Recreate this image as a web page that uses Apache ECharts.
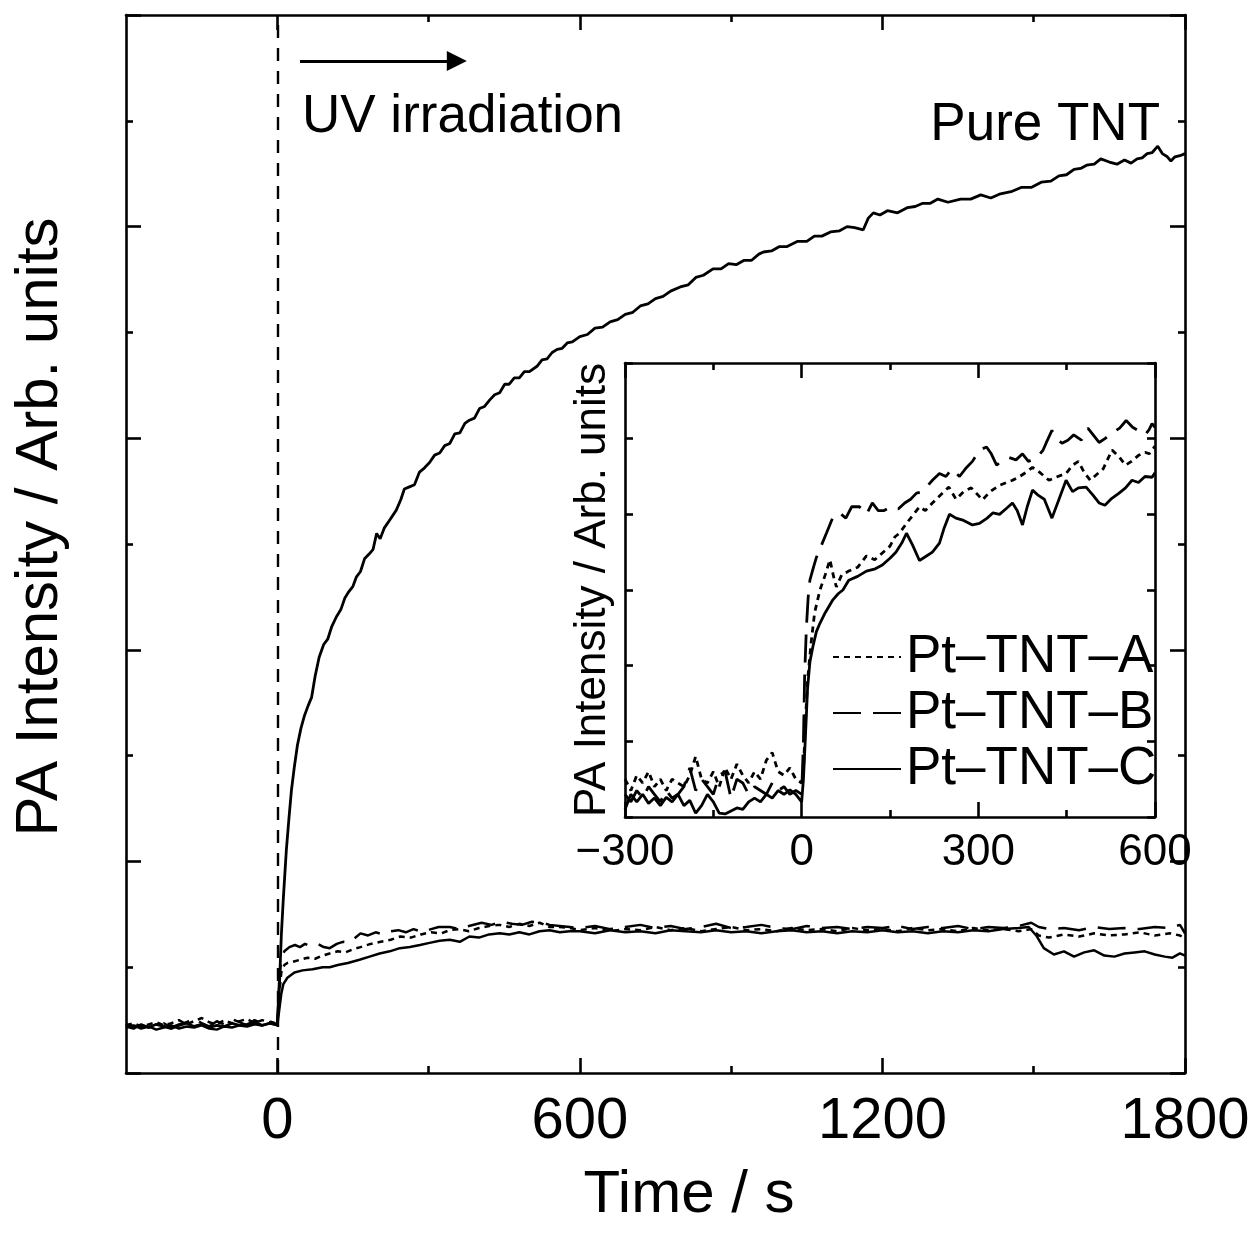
<!DOCTYPE html>
<html>
<head>
<meta charset="utf-8">
<script src="https://cdn.jsdelivr.net/npm/echarts@6/dist/echarts.min.js"></script>
<style>
  html, body { margin: 0; padding: 0; background: #fff; }
  #chart { width: 1257px; height: 1237px; }
</style>
</head>
<body>
<div id="chart"></div>
<script>
// ---------------- DATA (time / s, PA intensity / arb. units) ----------------
const mainXTicks = [0, 600, 1200, 1800];
const insetXTicks = [-300, 0, 300, 600];

const pureTNT = [
  [-300,0.46],[-285,0.44],[-270,0.45],[-255,0.43],[-240,0.46],[-225,0.44],[-210,0.42],[-195,0.45],
  [-180,0.47],[-165,0.44],[-150,0.46],[-135,0.43],[-120,0.45],[-105,0.44],[-90,0.47],[-75,0.45],
  [-60,0.46],[-45,0.48],[-30,0.45],[-15,0.47],[0,0.46],
  [4,0.80],[8,1.30],[12,1.65],[18,2.11],[23,2.40],[28,2.67],[34,2.90],[40,3.10],[47,3.26],[54,3.38],
  [61,3.47],[68,3.55],[75,3.75],[83,3.93],[92,4.05],[100,4.10],[108,4.22],[117,4.31],[126,4.38],
  [134,4.49],[142,4.55],[150,4.60],[157,4.69],[165,4.74],[173,4.86],[183,4.91],[190,4.95],[197,5.10],
  [204,5.05],[212,5.15],[222,5.22],[236,5.32],[245,5.42],[252,5.52],[262,5.54],[272,5.56],[282,5.68],
  [292,5.72],[302,5.77],[312,5.84],[322,5.86],[332,5.93],[342,5.95],[352,6.04],[362,6.05],[372,6.14],
  [381,6.17],[391,6.19],[401,6.28],[411,6.30],[421,6.36],[431,6.41],[441,6.43],[451,6.51],[460,6.51],
  [470,6.57],[480,6.57],[490,6.63],[500,6.63],[515,6.68],[525,6.74],[535,6.75],[545,6.81],[555,6.84],
  [565,6.85],[575,6.90],[585,6.91],[600,6.96],[615,6.98],[630,7.04],[645,7.05],[660,7.10],[675,7.12],
  [690,7.17],[705,7.19],[720,7.25],[735,7.27],[750,7.32],[765,7.34],[780,7.39],[799,7.43],[815,7.45],
  [830,7.52],[845,7.54],[864,7.60],[880,7.60],[895,7.65],[910,7.64],[925,7.68],[940,7.68],[955,7.74],
  [964,7.76],[980,7.77],[995,7.81],[1010,7.81],[1031,7.86],[1050,7.86],[1065,7.91],[1080,7.91],
  [1097,7.95],[1115,7.96],[1130,8.00],[1145,7.99],[1162,7.97],[1172,8.08],[1182,8.13],[1195,8.11],
  [1210,8.15],[1230,8.13],[1250,8.18],[1265,8.19],[1280,8.22],[1295,8.22],[1310,8.26],[1330,8.23],
  [1355,8.26],[1375,8.26],[1395,8.30],[1415,8.27],[1434,8.31],[1455,8.33],[1475,8.37],[1495,8.37],
  [1515,8.42],[1534,8.43],[1550,8.48],[1565,8.49],[1580,8.54],[1593,8.55],[1605,8.58],[1620,8.59],
  [1633,8.64],[1650,8.61],[1665,8.59],[1680,8.63],[1693,8.60],[1705,8.64],[1715,8.65],[1725,8.69],
  [1735,8.70],[1746,8.76],[1755,8.69],[1765,8.66],[1772,8.62],[1780,8.66],[1790,8.67],[1800,8.69]
];

const mainA = [
  [-300,0.45],[-285,0.47],[-270,0.44],[-255,0.46],[-240,0.48],[-225,0.45],[-210,0.47],[-195,0.50],
  [-180,0.46],[-165,0.49],[-150,0.52],[-135,0.48],[-120,0.46],[-105,0.50],[-90,0.47],[-75,0.49],
  [-60,0.51],[-45,0.47],[-30,0.50],[-15,0.48],[0,0.47],
  [4,0.75],[8,0.95],[14,1.02],[20,1.04],[30,1.05],[45,1.07],[60,1.09],[75,1.08],[90,1.11],[104,1.13],
  [120,1.15],[135,1.14],[150,1.17],[165,1.19],[185,1.22],[205,1.24],[225,1.26],[244,1.29],[265,1.28],
  [285,1.31],[305,1.33],[325,1.32],[342,1.35],[360,1.36],[380,1.34],[400,1.37],[420,1.39],[441,1.40],
  [460,1.38],[480,1.41],[500,1.39],[520,1.42],[540,1.38],[560,1.38],[580,1.37],
  [600,1.35],[630,1.37],[660,1.34],[690,1.36],[720,1.35],[750,1.38],[780,1.35],[810,1.37],[840,1.34],
  [870,1.36],[900,1.38],[930,1.35],[960,1.36],[990,1.34],[1020,1.37],[1050,1.35],[1080,1.36],
  [1110,1.34],[1140,1.37],[1170,1.35],[1200,1.36],[1230,1.34],[1260,1.37],[1290,1.35],[1320,1.36],
  [1350,1.34],[1380,1.37],[1410,1.35],[1440,1.36],[1470,1.34],[1495,1.36],[1510,1.30],[1530,1.28],
  [1560,1.31],[1590,1.29],[1620,1.32],[1650,1.30],[1680,1.31],[1710,1.33],[1740,1.30],[1770,1.32],
  [1790,1.30],[1800,1.27]
];

const mainB = [
  [-300,0.44],[-285,0.42],[-270,0.46],[-255,0.43],[-240,0.45],[-225,0.47],[-210,0.43],[-195,0.46],
  [-180,0.48],[-165,0.52],[-150,0.47],[-135,0.44],[-120,0.49],[-105,0.46],[-90,0.51],[-75,0.48],
  [-60,0.45],[-45,0.50],[-30,0.47],[-15,0.49],[0,0.46],
  [4,0.90],[8,1.08],[14,1.15],[24,1.19],[35,1.21],[45,1.19],[55,1.22],[65,1.20],[80,1.22],[92,1.19],
  [104,1.18],[118,1.22],[130,1.24],[142,1.23],[150,1.26],[165,1.32],[180,1.30],[195,1.33],[210,1.31],
  [225,1.34],[240,1.35],[255,1.33],[270,1.36],[290,1.33],[305,1.36],[320,1.38],[342,1.38],[360,1.36],
  [380,1.39],[405,1.42],[425,1.40],[445,1.43],[465,1.41],[485,1.40],[505,1.43],[525,1.42],[540,1.40],
  [560,1.39],[580,1.38],
  [600,1.37],[630,1.39],[660,1.36],[690,1.38],[720,1.40],[750,1.37],[780,1.39],[810,1.36],[840,1.38],
  [870,1.41],[900,1.37],[930,1.38],[960,1.40],[990,1.37],[1020,1.36],[1050,1.39],[1080,1.37],
  [1110,1.38],[1140,1.36],[1170,1.38],[1200,1.37],[1230,1.39],[1260,1.36],[1290,1.38],[1320,1.37],
  [1350,1.39],[1380,1.36],[1410,1.38],[1440,1.37],[1470,1.39],[1495,1.42],[1510,1.38],[1530,1.36],
  [1560,1.37],[1590,1.35],[1620,1.38],[1650,1.36],[1680,1.37],[1710,1.36],[1740,1.38],[1770,1.37],
  [1790,1.40],[1800,1.32]
];

const mainC = [
  [-300,0.43],[-285,0.45],[-270,0.42],[-255,0.44],[-240,0.41],[-225,0.43],[-210,0.45],[-195,0.42],
  [-180,0.44],[-165,0.43],[-150,0.45],[-135,0.42],[-120,0.41],[-105,0.44],[-90,0.43],[-75,0.45],
  [-60,0.44],[-45,0.46],[-30,0.45],[-15,0.47],[0,0.45],
  [4,0.60],[8,0.75],[12,0.84],[20,0.90],[34,0.95],[50,0.97],[70,0.98],[90,1.00],[104,1.00],[120,1.02],
  [140,1.04],[163,1.07],[183,1.10],[203,1.13],[223,1.15],[243,1.18],[263,1.19],[283,1.21],[302,1.23],
  [322,1.25],[342,1.26],[362,1.24],[381,1.29],[400,1.28],[420,1.31],[441,1.32],[460,1.31],[480,1.33],
  [500,1.31],[520,1.34],[540,1.35],[560,1.33],[580,1.34],
  [600,1.34],[630,1.32],[660,1.35],[690,1.33],[720,1.34],[750,1.32],[780,1.35],[810,1.34],[840,1.33],
  [870,1.35],[900,1.33],[930,1.34],[960,1.32],[990,1.34],[1020,1.35],[1050,1.33],[1080,1.34],
  [1110,1.32],[1140,1.34],[1170,1.33],[1200,1.35],[1230,1.33],[1260,1.34],[1290,1.32],[1320,1.34],
  [1350,1.33],[1380,1.35],[1410,1.34],[1440,1.36],[1470,1.37],[1490,1.38],[1505,1.30],[1520,1.18],
  [1540,1.12],[1560,1.15],[1580,1.10],[1600,1.14],[1620,1.16],[1640,1.11],[1660,1.10],[1680,1.13],
  [1700,1.14],[1720,1.15],[1740,1.12],[1760,1.10],[1775,1.09],[1790,1.13],[1800,1.11]
];

const insetA = [
  [-300,0.50],[-290,0.35],[-280,0.55],[-270,0.45],[-260,0.60],[-250,0.40],[-240,0.50],[-230,0.35],
  [-220,0.50],[-210,0.45],[-200,0.40],[-190,0.55],[-180,0.80],[-170,0.50],[-160,0.45],[-150,0.60],
  [-140,0.40],[-130,0.65],[-120,0.50],[-110,0.70],[-100,0.55],[-90,0.45],[-80,0.60],[-70,0.50],
  [-60,0.75],[-50,0.85],[-40,0.60],[-30,0.55],[-20,0.65],[-10,0.50],[0,0.45],
  [3,0.60],[6,1.20],[10,1.80],[16,2.30],[22,2.70],[31,3.00],[40,3.20],[48,3.40],[55,3.15],[59,3.04],
  [68,3.20],[80,3.25],[95,3.30],[110,3.45],[124,3.40],[137,3.49],[150,3.58],[158,3.70],[166,3.75],
  [178,3.88],[190,4.00],[200,4.10],[210,4.05],[222,4.15],[235,4.25],[250,4.36],[262,4.20],[275,4.30],
  [288,4.35],[300,4.25],[307,4.19],[320,4.30],[335,4.38],[348,4.42],[358,4.45],[370,4.50],[380,4.55],
  [392,4.62],[405,4.55],[420,4.45],[435,4.50],[449,4.54],[460,4.65],[470,4.70],[480,4.55],[490,4.45],
  [500,4.52],[512,4.60],[527,4.85],[540,4.75],[550,4.65],[560,4.70],[572,4.78],[583,4.82],[590,4.80],
  [600,4.90]
];

const insetB = [
  [-300,0.30],[-290,0.20],[-280,0.35],[-270,0.25],[-260,0.40],[-250,0.30],[-240,0.20],[-230,0.35],
  [-220,0.25],[-210,0.30],[-200,0.40],[-190,0.65],[-180,0.35],[-170,0.50],[-160,0.40],[-150,0.30],
  [-140,0.55],[-130,0.60],[-120,0.25],[-110,0.50],[-100,0.45],[-90,0.30],[-80,0.40],[-70,0.35],
  [-60,0.30],[-50,0.45],[-40,0.35],[-30,0.40],[-20,0.30],[-10,0.35],[0,0.30],
  [3,1.00],[5,1.85],[8,2.50],[11,2.90],[14,3.13],[20,3.30],[25,3.43],[34,3.60],[42,3.75],[53,3.96],
  [64,4.02],[75,3.95],[85,4.10],[98,4.10],[110,4.00],[120,4.15],[130,4.05],[140,4.05],[152,4.10],
  [164,4.07],[175,4.15],[185,4.20],[195,4.28],[205,4.30],[212,4.36],[222,4.45],[234,4.54],[245,4.50],
  [255,4.60],[268,4.50],[280,4.62],[290,4.70],[302,4.85],[314,4.89],[322,4.80],[331,4.65],[342,4.72],
  [352,4.75],[364,4.72],[375,4.80],[385,4.70],[400,4.75],[410,4.85],[415,4.94],[425,5.11],[433,5.00],
  [442,4.94],[452,4.98],[462,5.05],[475,4.98],[486,5.14],[495,5.05],[505,4.95],[515,5.00],[528,5.08],
  [540,5.14],[551,5.24],[562,5.15],[573,5.10],[583,5.05],[590,5.12],[595,5.20],[600,5.15]
];

const insetC = [
  [-300,0.10],[-290,0.30],[-280,0.20],[-270,0.30],[-260,0.18],[-250,0.25],[-240,0.15],[-230,0.26],
  [-220,0.20],[-210,0.30],[-200,0.15],[-190,0.22],[-180,0.05],[-170,0.15],[-160,0.30],[-150,0.20],
  [-140,0.05],[-130,0.04],[-120,0.08],[-110,0.12],[-100,0.10],[-90,0.20],[-80,0.25],[-70,0.20],
  [-60,0.30],[-50,0.25],[-40,0.35],[-30,0.30],[-20,0.36],[-10,0.30],[0,0.20],
  [3,0.50],[6,1.00],[10,1.70],[14,2.05],[19,2.25],[25,2.45],[31,2.56],[40,2.70],[53,2.87],[62,2.95],
  [70,3.00],[80,3.13],[95,3.18],[110,3.25],[125,3.28],[137,3.33],[150,3.42],[160,3.50],[170,3.62],
  [178,3.75],[188,3.60],[200,3.39],[212,3.45],[222,3.50],[234,3.62],[242,3.82],[251,4.00],[262,3.95],
  [275,3.92],[290,3.86],[302,3.88],[315,3.95],[325,4.02],[336,4.00],[348,4.08],[358,4.15],[366,4.05],
  [375,3.86],[383,4.10],[392,4.32],[402,4.25],[412,4.20],[425,3.95],[437,4.20],[449,4.45],[460,4.30],
  [470,4.35],[483,4.36],[495,4.25],[505,4.15],[515,4.12],[525,4.20],[539,4.28],[550,4.35],[561,4.45],
  [572,4.42],[583,4.50],[595,4.49],[600,4.55]
];

const seriesNames = ['Pt\u2013TNT\u2013A', 'Pt\u2013TNT\u2013B', 'Pt\u2013TNT\u2013C'];

// ---------------- STYLE ----------------
const FONT = '"Liberation Sans", Arial, Helvetica, sans-serif';
const K = '#000';
const AX_W = 2.6;
const dashA = [6, 5];
const dashB = [28, 12];

const chart = echarts.init(document.getElementById('chart'), null, { renderer: 'canvas' });

const lineAx = { show: true, onZero: false, lineStyle: { color: K, width: AX_W } };
const noLineAx = { show: false, onZero: false };
const tick = (len) => ({ show: true, inside: true, length: len, lineStyle: { color: K, width: AX_W } });
const minor = { show: true, splitNumber: 2, length: 7, lineStyle: { color: K, width: AX_W } };
const minus = v => (v < 0 ? '\u2212' + Math.abs(v) : String(v));

const option = {
  animation: false,
  backgroundColor: '#fff',
  textStyle: { fontFamily: FONT, color: K },
  grid: [
    { left: 126, top: 15, width: 1059, height: 1058 },             // main data
    { left: 277.3, top: 15, width: 907.7, height: 1058 },          // main tick axis (0..1800)
    { left: 625, top: 363, width: 530, height: 454 }               // inset
  ],
  xAxis: [
    { gridIndex: 0, type: 'value', position: 'bottom', min: -300, max: 1800,
      axisLine: lineAx, axisTick: { show: false }, axisLabel: { show: false }, splitLine: { show: false } },
    { gridIndex: 0, type: 'value', position: 'top', min: -300, max: 1800,
      axisLine: lineAx, axisTick: { show: false }, axisLabel: { show: false }, splitLine: { show: false } },
    { gridIndex: 1, type: 'value', position: 'bottom', min: 0, max: 1800, interval: 600,
      axisLine: noLineAx, axisTick: tick(15), minorTick: minor,
      axisLabel: { show: true, fontSize: 58, fontFamily: FONT, color: K, margin: 20,
        formatter: v => (mainXTicks.indexOf(v) >= 0 ? String(v) : '') },
      splitLine: { show: false } },
    { gridIndex: 1, type: 'value', position: 'top', min: 0, max: 1800, interval: 600,
      axisLine: noLineAx, axisTick: tick(15), minorTick: minor,
      axisLabel: { show: false }, splitLine: { show: false } },
    { gridIndex: 2, type: 'value', position: 'bottom', min: -300, max: 600, interval: 300,
      axisLine: lineAx, axisTick: tick(15), minorTick: minor,
      axisLabel: { show: true, fontSize: 44, fontFamily: FONT, color: K, margin: 14,
        formatter: v => (insetXTicks.indexOf(v) >= 0 ? minus(v) : '') },
      splitLine: { show: false } },
    { gridIndex: 2, type: 'value', position: 'top', min: -300, max: 600, interval: 300,
      axisLine: lineAx, axisTick: tick(15), minorTick: minor,
      axisLabel: { show: false }, splitLine: { show: false } }
  ],
  yAxis: [
    { gridIndex: 0, type: 'value', position: 'left', min: 0, max: 10, interval: 2,
      axisLine: lineAx, axisTick: tick(15), minorTick: minor,
      axisLabel: { show: false }, splitLine: { show: false } },
    { gridIndex: 0, type: 'value', position: 'right', min: 0, max: 10, interval: 2,
      axisLine: lineAx, axisTick: tick(15), minorTick: minor,
      axisLabel: { show: false }, splitLine: { show: false } },
    { gridIndex: 1, type: 'value', min: 0, max: 10, show: false, axisLine: noLineAx },
    { gridIndex: 2, type: 'value', position: 'left', min: 0, max: 6, interval: 1,
      axisLine: lineAx, axisTick: tick(8),
      axisLabel: { show: false }, splitLine: { show: false },
      name: 'PA Intensity / Arb. units', nameLocation: 'middle', nameGap: 10,
      nameTextStyle: { fontSize: 44, fontFamily: FONT, color: K } },
    { gridIndex: 2, type: 'value', position: 'right', min: 0, max: 6, interval: 1,
      axisLine: lineAx, axisTick: tick(8),
      axisLabel: { show: false }, splitLine: { show: false } }
  ],
  legend: {
    data: seriesNames,
    orient: 'vertical',
    left: 832, top: 629,
    padding: 0,
    itemWidth: 68, itemHeight: 14, itemGap: 0,
    selectedMode: false,
    itemStyle: { opacity: 0 },
    textStyle: { fontSize: 53, lineHeight: 56, fontFamily: FONT, color: K }
  },
  graphic: [
    { type: 'text', x: 40, y: 527, rotation: Math.PI / 2,
      style: { text: 'PA Intensity / Arb. units', fontSize: 60, fontFamily: FONT, fill: K, align: 'center', verticalAlign: 'middle' } },
    { type: 'text', x: 689, y: 1195,
      style: { text: 'Time / s', fontSize: 60, fontFamily: FONT, fill: K, align: 'center', verticalAlign: 'middle' } },
    { type: 'text', x: 302, y: 117,
      style: { text: 'UV irradiation', fontSize: 53, fontFamily: FONT, fill: K, align: 'left', verticalAlign: 'middle' } },
    { type: 'text', x: 1160, y: 125,
      style: { text: 'Pure TNT', fontSize: 53, fontFamily: FONT, fill: K, align: 'right', verticalAlign: 'middle' } }
  ],
  series: [
    // inset
    { name: seriesNames[0], type: 'line', xAxisIndex: 4, yAxisIndex: 3, data: insetA, showSymbol: false, symbol: 'none',
      lineStyle: { color: K, width: 2.8, type: dashA }, itemStyle: { color: K } },
    { name: seriesNames[1], type: 'line', xAxisIndex: 4, yAxisIndex: 3, data: insetB, showSymbol: false, symbol: 'none',
      lineStyle: { color: K, width: 2.8, type: dashB }, itemStyle: { color: K } },
    { name: seriesNames[2], type: 'line', xAxisIndex: 4, yAxisIndex: 3, data: insetC, showSymbol: false, symbol: 'none',
      lineStyle: { color: K, width: 2.8, type: 'solid' }, itemStyle: { color: K } },
    // main
    { name: 'Pure TNT', type: 'line', xAxisIndex: 0, yAxisIndex: 0, data: pureTNT, showSymbol: false, symbol: 'none',
      lineStyle: { color: K, width: 2.8 }, itemStyle: { color: K },
      markLine: {
        silent: true, animation: false,
        symbol: ['none', 'none'],
        label: { show: false },
        data: [
          { xAxis: 0, lineStyle: { color: K, width: 2.4, type: [13, 10] } },
          [
            { coord: [45, 9.565], symbol: 'none', lineStyle: { color: K, width: 3, type: 'solid' } },
            { coord: [356, 9.565], symbol: 'triangle', symbolSize: 20 }
          ]
        ]
      } },
    { name: seriesNames[0], type: 'line', xAxisIndex: 0, yAxisIndex: 0, data: mainA, showSymbol: false, symbol: 'none',
      lineStyle: { color: K, width: 2.5, type: dashA }, itemStyle: { color: K } },
    { name: seriesNames[1], type: 'line', xAxisIndex: 0, yAxisIndex: 0, data: mainB, showSymbol: false, symbol: 'none',
      lineStyle: { color: K, width: 2.5, type: dashB }, itemStyle: { color: K } },
    { name: seriesNames[2], type: 'line', xAxisIndex: 0, yAxisIndex: 0, data: mainC, showSymbol: false, symbol: 'none',
      lineStyle: { color: K, width: 2.5, type: 'solid' }, itemStyle: { color: K } }
  ]
};
chart.setOption(option);
</script>
</body>
</html>
